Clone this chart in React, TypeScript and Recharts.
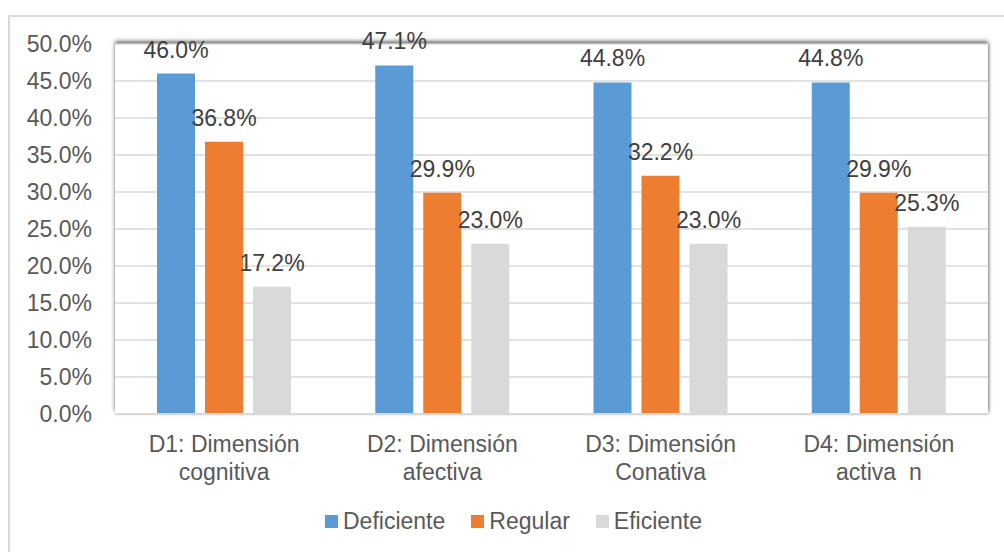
import React from "react";
import {
  BarChart,
  Bar,
  XAxis,
  YAxis,
  CartesianGrid,
  Legend,
  LabelList,
} from "recharts";

const categories = [
  "D1: Dimensión\ncognitiva",
  "D2: Dimensión\nafectiva",
  "D3: Dimensión\nConativa",
  "D4: Dimensión\nactiva  n",
];
const deficiente = [46.0, 47.1, 44.8, 44.8];
const regular = [36.8, 29.9, 32.2, 29.9];
const eficiente = [17.2, 23.0, 23.0, 25.3];
const yTicks = [0, 5, 10, 15, 20, 25, 30, 35, 40, 45, 50];

const seriesNames = ["Deficiente", "Regular", "Eficiente"];
const seriesColors = ["#5B9BD5", "#ED7D31", "#D9D9D9"];

const FONT = "'Liberation Sans', Arial, sans-serif";

const data = categories.map((name, i) => ({
  name,
  Deficiente: deficiente[i],
  Regular: regular[i],
  Eficiente: eficiente[i],
}));

const pct = (v: any) => Number(v).toFixed(1) + "%";

function CategoryTick(props: any) {
  const { x, y, payload } = props;
  const lines = String(payload.value).split("\n");
  return (
    <text
      x={x}
      y={y}
      textAnchor="middle"
      fill="#595959"
      fontSize={23}
      fontFamily={FONT}
      style={{ whiteSpace: "pre" }}
    >
      {lines.map((l, i) => (
        <tspan key={i} x={x} dy={i === 0 ? 38 : 28}>
          {l}
        </tspan>
      ))}
    </text>
  );
}

function LegendBox() {
  return (
    <div style={{ display: "flex", alignItems: "center", fontFamily: FONT, fontSize: 23, color: "#595959" }}>
      {seriesNames.map((n, i) => (
        <div key={n} style={{ display: "flex", alignItems: "center", marginRight: 26 }}>
          <span style={{ width: 13, height: 13, background: seriesColors[i], display: "inline-block", marginRight: 5 }} />
          <span>{n}</span>
        </div>
      ))}
    </div>
  );
}

export default function App() {
  return (
    <div
      style={{
        position: "fixed",
        left: 0,
        top: 0,
        width: 1004,
        height: 552,
        overflow: "hidden",
        background: "#fff",
      }}
    >
      <div
        style={{
          position: "absolute",
          left: 8,
          top: 15,
          width: 1100,
          height: 600,
          border: "2px solid #d9d9d9",
        }}
      />
      <div
        style={{
          position: "absolute",
          left: 115,
          top: 44,
          width: 873,
          height: 370,
          background: "#fff",
          boxShadow: "0 -3px 4px 0 rgba(0,0,0,0.55), 1px 0 3px 0 rgba(0,0,0,0.25)",
        }}
      />
      <div style={{ position: "absolute", left: 0, top: 0 }}>
        <BarChart
          width={1004}
          height={552}
          data={data}
          margin={{ top: 44, right: 16, left: 0, bottom: 0 }}
          barSize={38}
          barGap={10}
        >
          <CartesianGrid vertical={false} stroke="#d9d9d9" strokeWidth={1.5} />
          <XAxis
            dataKey="name"
            interval={0}
            tickLine={false}
            tickSize={0}
            tickMargin={0}
            axisLine={{ stroke: "#d9d9d9", strokeWidth: 2 }}
            tick={<CategoryTick />}
            height={138}
          />
          <YAxis
            width={115}
            domain={[0, 50]}
            ticks={yTicks}
            interval={0}
            tickFormatter={pct}
            axisLine={false}
            tickLine={false}
            tickSize={6}
            tickMargin={17}
            tick={{ fill: "#595959", fontSize: 23, fontFamily: FONT }}
          />
          <Legend
            layout="horizontal"
            verticalAlign="middle"
            align="center"
            content={<LegendBox />}
            wrapperStyle={{ top: 508, left: 325, width: "auto" }}
          />
          <Bar dataKey="Deficiente" fill={seriesColors[0]} isAnimationActive={false}>
            <LabelList dataKey="Deficiente" position="top" offset={16} formatter={pct} fill="#404040" fontSize={23} fontFamily={FONT} />
          </Bar>
          <Bar dataKey="Regular" fill={seriesColors[1]} isAnimationActive={false}>
            <LabelList dataKey="Regular" position="top" offset={16} formatter={pct} fill="#404040" fontSize={23} fontFamily={FONT} />
          </Bar>
          <Bar dataKey="Eficiente" fill={seriesColors[2]} isAnimationActive={false}>
            <LabelList dataKey="Eficiente" position="top" offset={16} formatter={pct} fill="#404040" fontSize={23} fontFamily={FONT} />
          </Bar>
        </BarChart>
      </div>
    </div>
  );
}
